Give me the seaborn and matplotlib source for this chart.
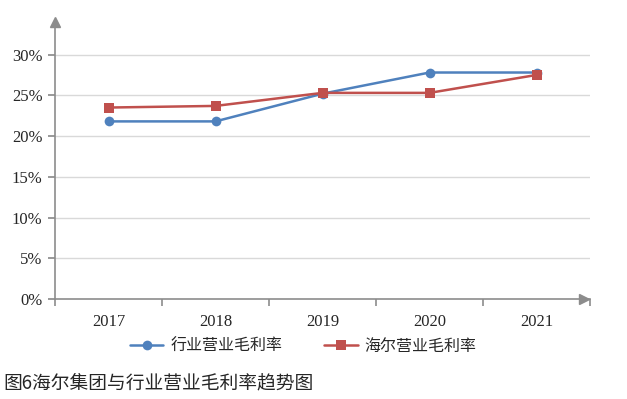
import numpy as np
import pandas as pd
import matplotlib
matplotlib.use("Agg")
import matplotlib.pyplot as plt
import seaborn as sns

years = ["2017", "2018", "2019", "2020", "2021"]
industry = [21.8, 21.8, 25.2, 27.8, 27.8]
haier = [23.5, 23.7, 25.3, 25.3, 27.5]
series_names = ["行业营业毛利率", "海尔营业毛利率"]
yticks = [0, 5, 10, 15, 20, 25, 30]

sns.set_theme(style="white")
plt.rcParams['font.family'] = ['Noto Sans CJK SC', 'DejaVu Sans']

df = pd.DataFrame({
    "year": years * 2,
    "value": industry + haier,
    "series": [series_names[0]] * 5 + [series_names[1]] * 5,
})

fig = plt.figure(figsize=(6.27, 3.99), dpi=100)
ax = fig.add_axes([55/627, 1 - 299/399, (590 - 55)/627, (299 - 22)/399])

palette = {series_names[0]: "#4F81BD", series_names[1]: "#C0504D"}
sns.lineplot(data=df, x="year", y="value", hue="series", style="series",
             markers={series_names[0]: "o", series_names[1]: "s"},
             dashes=False, palette=palette, lw=1.8, markersize=7,
             markeredgewidth=0, ax=ax, sort=False)

ax.set_xlim(-0.5, 4.5)
ax.set_ylim(0, 34)
ax.set_yticks(yticks)
ax.set_yticklabels([f"{v}%" for v in yticks], family="Liberation Serif", fontsize=12)
ax.set_xticks(range(5))
ax.set_xticklabels(years, family="Liberation Serif", fontsize=12)
ax.set_xticks(np.arange(-0.5, 5, 1), minor=True)
ax.set_xlabel("")
ax.set_ylabel("")
for v in yticks[1:]:
    ax.axhline(v, color="#D9D9D9", lw=1, zorder=0)

for s in ["top", "right"]:
    ax.spines[s].set_visible(False)
for s in ["left", "bottom"]:
    ax.spines[s].set_color("#8C8C8C")
    ax.spines[s].set_linewidth(1.2)
ax.tick_params(axis="y", length=5, color="#8C8C8C", left=True, pad=4)
ax.tick_params(axis="x", which="major", length=0, pad=11)
ax.tick_params(axis="x", which="minor", length=5, color="#8C8C8C", bottom=True, width=1.2)
# arrow heads on the axes
ax.plot([0.988], [0], marker=">", markersize=7, color="#8C8C8C", transform=ax.transAxes, clip_on=False)
ax.plot([0], [1.0], marker="^", markersize=7, color="#8C8C8C", transform=ax.transAxes, clip_on=False)

leg = ax.legend(loc="center", bbox_to_anchor=(0.464, -0.17), ncol=2, frameon=False,
                fontsize=11.5, handlelength=2.1, columnspacing=2.6, handletextpad=0.45)

fig.text(0.006, 1 - 383/399, "图6海尔集团与行业营业毛利率趋势图", fontsize=13.5, va="center", ha="left")

fig.savefig("out.png", dpi=100)
